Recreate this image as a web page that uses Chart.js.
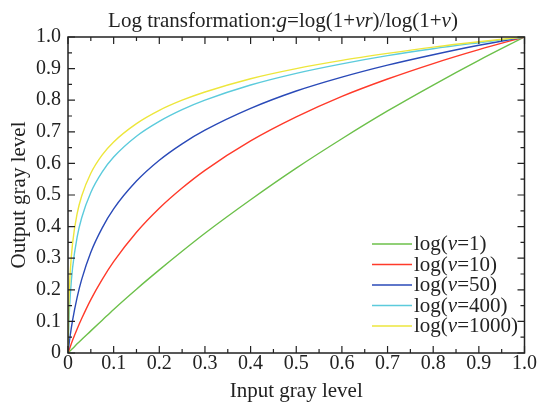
<!DOCTYPE html>
<html>
<head>
<meta charset="utf-8">
<script src="https://cdn.jsdelivr.net/npm/chart.js@4"></script>
<style>
  html, body { margin: 0; padding: 0; background: #fff; }
  #wrap { width: 538px; height: 402px; }
</style>
</head>
<body>
<div id="wrap"><canvas id="myChart" width="538" height="402"></canvas></div>
<script>
// input gray level r
var inputLevels = [0, 0.002, 0.005, 0.01, 0.02, 0.03, 0.05, 0.075, 0.1, 0.15, 0.2, 0.25, 0.3, 0.4, 0.5, 0.6, 0.7, 0.8, 0.9, 1.0];

// output gray level g
var outV1 = [0, 0.003, 0.007, 0.014, 0.029, 0.043, 0.070, 0.104, 0.138, 0.202, 0.263, 0.322, 0.379, 0.485, 0.585, 0.678, 0.766, 0.848, 0.926, 1.0];
var outV10 = [0, 0.008, 0.020, 0.040, 0.076, 0.109, 0.169, 0.233, 0.289, 0.382, 0.458, 0.522, 0.578, 0.671, 0.747, 0.812, 0.867, 0.916, 0.960, 1.0];
var outV50 = [0, 0.024, 0.057, 0.103, 0.176, 0.233, 0.319, 0.396, 0.456, 0.544, 0.610, 0.662, 0.705, 0.774, 0.829, 0.873, 0.911, 0.944, 0.974, 1.0];
var outV400 = [0, 0.098, 0.183, 0.269, 0.367, 0.428, 0.508, 0.573, 0.620, 0.686, 0.733, 0.770, 0.800, 0.848, 0.885, 0.915, 0.941, 0.963, 0.982, 1.0];
var outV1000 = [0, 0.159, 0.259, 0.347, 0.441, 0.497, 0.569, 0.627, 0.668, 0.726, 0.768, 0.800, 0.826, 0.868, 0.900, 0.926, 0.948, 0.968, 0.985, 1.0];

var seriesNames = ["1", "10", "50", "400", "1000"];
var seriesColors = ["#6cc04a", "#ff3a2a", "#2a4ab8", "#5ccbdc", "#ede63c"];
var tickValues = [0, 0.1, 0.2, 0.3, 0.4, 0.5, 0.6, 0.7, 0.8, 0.9, 1.0];

var serif = "'Liberation Serif', 'Times New Roman', serif";
var allSeries = [outV1, outV10, outV50, outV400, outV1000];

var datasets = [];
for (var i = 0; i < allSeries.length; i++) {
  var pts = [];
  for (var j = 0; j < inputLevels.length; j++) {
    pts.push({ x: inputLevels[j], y: allSeries[i][j] });
  }
  datasets.push({
    label: seriesNames[i],
    data: pts,
    borderColor: seriesColors[i],
    backgroundColor: seriesColors[i],
    borderWidth: 1.4,
    pointRadius: 0,
    fill: false,
    cubicInterpolationMode: "monotone",
    order: allSeries.length - i
  });
}

// draws mixed regular/italic text pieces starting at x
function drawPieces(ctx, pieces, x, y, size) {
  for (var k = 0; k < pieces.length; k++) {
    ctx.font = (pieces[k][1] ? "italic " : "") + size + "px " + serif;
    ctx.fillText(pieces[k][0], x, y);
    x += ctx.measureText(pieces[k][0]).width;
  }
}
function piecesWidth(ctx, pieces, size) {
  var w = 0;
  for (var k = 0; k < pieces.length; k++) {
    ctx.font = (pieces[k][1] ? "italic " : "") + size + "px " + serif;
    w += ctx.measureText(pieces[k][0]).width;
  }
  return w;
}

var framePlugin = {
  id: "frame",
  afterDraw: function(chart) {
    var ctx = chart.ctx;
    var a = chart.chartArea;
    var xs = chart.scales.x, ys = chart.scales.y;
    ctx.save();
    ctx.strokeStyle = "#222";
    ctx.lineWidth = 1.5;
    ctx.strokeRect(a.left, a.top, a.right - a.left, a.bottom - a.top);

    // inward ticks, major every 0.1 and minor every 0.05
    ctx.lineWidth = 1.2;
    ctx.beginPath();
    for (var t = 0; t <= 20; t++) {
      var v = t / 20;
      var len = t % 2 === 0 ? 7 : 4;
      var px = xs.getPixelForValue(v);
      ctx.moveTo(px, a.bottom); ctx.lineTo(px, a.bottom - len);
      ctx.moveTo(px, a.top); ctx.lineTo(px, a.top + len);
      var py = ys.getPixelForValue(v);
      ctx.moveTo(a.left, py); ctx.lineTo(a.left + len, py);
      ctx.moveTo(a.right, py); ctx.lineTo(a.right - len, py);
    }
    ctx.stroke();

    // title
    ctx.fillStyle = "#222";
    ctx.textBaseline = "alphabetic";
    ctx.textAlign = "left";
    var title = [["Log transformation:", false], ["g", true], ["=log(1+", false], ["vr", true], [")/log(1+", false], ["v", true], [")", false]];
    var tw = piecesWidth(ctx, title, 21);
    drawPieces(ctx, title, 283 - tw / 2, 27, 21);

    // legend inside lower right
    for (var i = 0; i < chart.data.datasets.length; i++) {
      var ds = chart.data.datasets[i];
      var ly = 244 + i * 20.5;
      ctx.strokeStyle = ds.borderColor;
      ctx.lineWidth = 1.4;
      ctx.beginPath();
      ctx.moveTo(372, ly); ctx.lineTo(412, ly);
      ctx.stroke();
      ctx.fillStyle = "#222";
      drawPieces(ctx, [["log(", false], ["v", true], ["=" + ds.label + ")", false]], 414, ly + 6, 21);
    }
    ctx.restore();
  }
};

new Chart(document.getElementById("myChart"), {
  type: "line",
  data: { datasets: datasets },
  options: {
    responsive: false,
    animation: false,
    devicePixelRatio: 1,
    layout: { padding: { top: 37, right: 12, left: 0, bottom: 0 } },
    plugins: {
      legend: { display: false },
      title: { display: false },
      tooltip: { enabled: false }
    },
    scales: {
      x: {
        type: "linear",
        min: 0,
        max: 1,
        afterFit: function(scale) { scale.height = 49; },
        afterBuildTicks: function(scale) {
          scale.ticks = tickValues.map(function(v) { return { value: v }; });
        },
        grid: { display: false, drawTicks: false },
        border: { display: false },
        ticks: {
          color: "#222",
          padding: 1,
          maxRotation: 0,
          font: { family: serif, size: 20, lineHeight: 1 },
          callback: function(v) { return v === 0 ? "0" : v.toFixed(1); }
        },
        title: {
          display: true,
          text: "Input gray level",
          color: "#222",
          padding: { top: 0, bottom: 0 },
          font: { family: serif, size: 21, lineHeight: 1 }
        }
      },
      y: {
        type: "linear",
        min: 0,
        max: 1,
        afterFit: function(scale) { scale.width = 68; },
        afterBuildTicks: function(scale) {
          scale.ticks = tickValues.map(function(v) { return { value: v }; });
        },
        grid: { display: false, drawTicks: false },
        border: { display: false },
        ticks: {
          color: "#222",
          padding: 7,
          font: { family: serif, size: 20, lineHeight: 1 },
          callback: function(v) { return v === 0 ? "0" : v.toFixed(1); }
        },
        title: {
          display: true,
          text: "Output gray level",
          color: "#222",
          padding: { top: 9, bottom: 0 },
          font: { family: serif, size: 21, lineHeight: 1 }
        }
      }
    }
  },
  plugins: [framePlugin]
});
</script>
</body>
</html>
